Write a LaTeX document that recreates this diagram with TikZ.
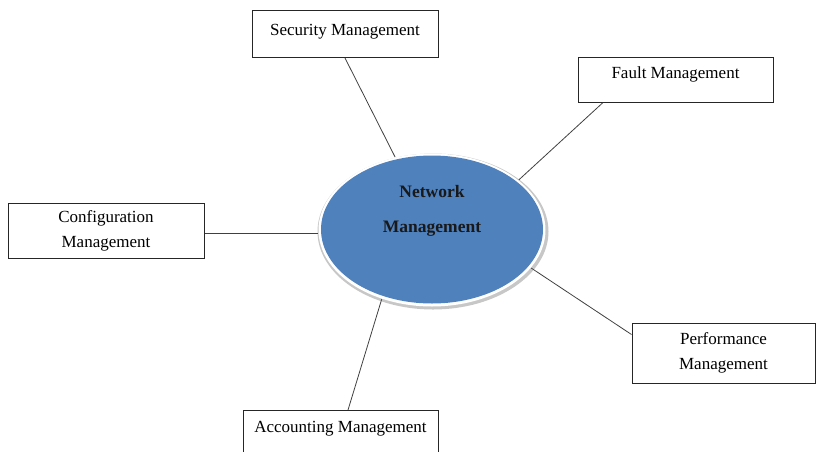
\documentclass[tikz,border=0pt]{standalone}
\usepackage{fontspec}
\setmainfont{Liberation Serif}
\usetikzlibrary{shapes.geometric,calc}
\definecolor{nmblue}{RGB}{79,129,189}
\begin{document}
\begin{tikzpicture}[x=1pt,y=-1pt,
  box/.style={draw=black!85, line width=1pt, fill=white, inner xsep=0pt, inner ysep=0pt,
    align=center, font=\fontsize{17}{24.5}\selectfont},
  conn/.style={draw=black!75, line width=0.8pt}]
\useasboundingbox (0,0) rectangle (817,451);
% central ellipse
\fill[black!22] (433,231.5) ellipse [x radius=115.5, y radius=78];
\fill[white] (432,230) ellipse [x radius=113.5, y radius=76.5];
\fill[nmblue] (432,229.5) ellipse [x radius=111, y radius=74];
\node[ellipse, minimum width=228, minimum height=154, inner sep=0pt] (nm) at (432,230) {};
\node[align=center, inner sep=0pt, text=black!90, font=\bfseries\fontsize{17.5}{35}\selectfont] (nmtext) at (432,211) {Network\\Management};
% boxes
\node[box, anchor=north, minimum width=186, text height=25, text depth=22] (sec) at (345,10) {Security Management};
\node[box, anchor=north, minimum width=195, text height=21, text depth=24] (fault) at (675.5,57) {Fault Management};
\node[box, minimum width=196, minimum height=55] (conf) at (106,230.5) {Configuration\\[0.5pt]Management};
\node[box, minimum width=183, minimum height=60] (perf) at (723.5,353) {Performance\\Management};
\node[box, anchor=north, minimum width=195, text height=22, text depth=50] (acc) at (340.5,410) {Accounting Management};
% connectors
\draw[conn] (sec.south) -- (nm);
\draw[conn] ($(fault.south west)+(25,0)$) -- (nm.30);
\draw[conn] (conf.east) ++(0,3) -- (nm.west |- {$(conf.east)+(0,3)$});
\draw[conn] ($(perf.north west)+(0,12)$) -- (nm.-21);
\draw[conn] ($(acc.north)+(7.5,0)$) -- (nm.-126);
\end{tikzpicture}
\end{document}
